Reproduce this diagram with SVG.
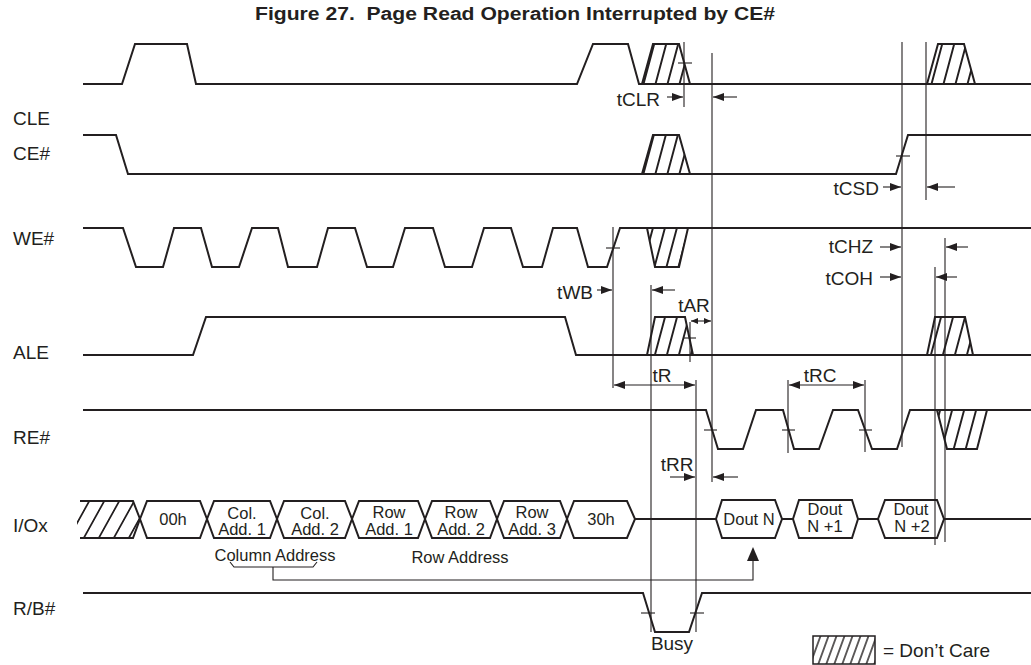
<svg xmlns="http://www.w3.org/2000/svg" width="1031" height="665" viewBox="0 0 1031 665">
<style>
.w{fill:none;stroke:#231f20;stroke-width:2;stroke-linejoin:miter}
.t{fill:none;stroke:#231f20;stroke-width:1.1}
.a{fill:none;stroke:#231f20;stroke-width:1.1}
.hz{fill:url(#h);stroke:#231f20;stroke-width:2}
.lbl{font-family:"Liberation Sans",Arial,sans-serif;font-size:19px;fill:#231f20}
.bx{font-family:"Liberation Sans",Arial,sans-serif;font-size:16.5px;fill:#231f20;text-anchor:middle}
.tm{font-family:"Liberation Sans",Arial,sans-serif;font-size:19px;fill:#231f20}
</style>
<defs>
<pattern id="h" patternUnits="userSpaceOnUse" width="12" height="40" patternTransform="skewX(-15)">
<line x1="6" y1="-5" x2="6" y2="45" stroke="#231f20" stroke-width="2"/>
</pattern>
<pattern id="h2" patternUnits="userSpaceOnUse" width="8" height="40" patternTransform="skewX(-20)">
<line x1="4" y1="-5" x2="4" y2="45" stroke="#231f20" stroke-width="1.5"/>
</pattern>
<pattern id="h3" patternUnits="userSpaceOnUse" width="15" height="40" patternTransform="skewX(-29)">
<line x1="7" y1="-5" x2="7" y2="45" stroke="#231f20" stroke-width="2"/>
</pattern>
<marker id="ah" markerUnits="userSpaceOnUse" markerWidth="12" markerHeight="10" refX="11" refY="4" orient="auto">
<path d="M0,0 L11,4 L0,8 Z" fill="#231f20"/>
</marker>
<marker id="as" markerUnits="userSpaceOnUse" markerWidth="12" markerHeight="10" refX="0" refY="4" orient="auto">
<path d="M11,0 L0,4 L11,8 Z" fill="#231f20"/>
</marker>
<marker id="ahs" markerUnits="userSpaceOnUse" markerWidth="8" markerHeight="6" refX="7" refY="3" orient="auto">
<path d="M0,0 L7,3 L0,6 Z" fill="#231f20"/>
</marker>
<marker id="ass" markerUnits="userSpaceOnUse" markerWidth="8" markerHeight="6" refX="0" refY="3" orient="auto">
<path d="M7,0 L0,3 L7,6 Z" fill="#231f20"/>
</marker>
</defs>

<text x="515" y="20" text-anchor="middle" font-family="Liberation Sans,Arial,sans-serif" font-weight="bold" font-size="18" fill="#231f20" textLength="520" lengthAdjust="spacingAndGlyphs">Figure 27.&#160; Page Read Operation Interrupted by CE#</text>

<g id="labels">
<text class="lbl" x="13" y="125">CLE</text>
<text class="lbl" x="13" y="160">CE#</text>
<text class="lbl" x="13" y="245">WE#</text>
<text class="lbl" x="13" y="359">ALE</text>
<text class="lbl" x="13" y="444">RE#</text>
<text class="lbl" x="13" y="532">I/Ox</text>
<text class="lbl" x="13" y="615">R/B#</text>
</g>

<g id="cle">
<path class="w" d="M83,84 H122 L135,44 H187 L196,84 H577 L593,44 H628 L639,84 H1031"/>
<polygon class="hz" points="642,84 653,44 679,44 690,84"/>
<polygon class="hz" points="927,84 938,44 964,44 975,84"/>
</g>
<g id="ce">
<path class="w" d="M83,135 H116 L128,174 H896 L908,135 H1031"/>
<polygon class="hz" points="642,174 653,135 679,135 690,174"/>
</g>
<g id="we">
<path class="w" d="M83,228 H123 L136,267 H163 L174,228 H201 L212,267 H239 L252,228 H278 L288,267 H317 L328,228 H355 L367,267 H393 L405,228 H433 L445,267 H472 L484,228 H511 L523,267 H542 L553,228 H577 L588,267 H607 L620,228 H1031"/>
<polygon class="hz" points="647,228 688,228 679,267 655,267"/>
</g>
<g id="ale">
<path class="w" d="M83,355 H193 L206,317 H565 L576,355 H1031"/>
<polygon class="hz" points="647,355 655,317 685,317 693,355"/>
<polygon class="hz" points="927,355 935,317 965,317 973,355"/>
</g>
<g id="re">
<path class="w" d="M83,410 H706 L718,449 H743 L756,410 H783 L794,449 H819 L833,410 H858 L872,449 H897 L910,410 H1031"/>
<polygon class="hz" points="937,410 987,410 977,449 947,449"/>
</g>
<g id="io">
<polygon fill="url(#h3)" stroke="none" points="77,501 133,501 140,519 133,538 77,538"/>
<rect x="60" y="495" width="17" height="50" fill="#fff"/>
<path class="w" d="M80,501 H133 L140,519 L133,538 H80"/>
<polygon class="w" points="140,519 147,501 200,501 207,519 200,538 147,538"/>
<polygon class="w" points="207,519 214,501 270,501 277,519 270,538 214,538"/>
<polygon class="w" points="277,519 284,501 345,501 352,519 345,538 284,538"/>
<polygon class="w" points="352,519 359,501 418,501 425,519 418,538 359,538"/>
<polygon class="w" points="425,519 432,501 490,501 497,519 490,538 432,538"/>
<polygon class="w" points="497,519 504,501 560,501 567,519 560,538 504,538"/>
<polygon class="w" points="567,519 574,501 627,501 635,519 627,538 574,538"/>
<path class="w" d="M635,519 H716"/>
<polygon class="w" points="716,519 722,500 775,500 782,519 775,538 722,538"/>
<path class="w" d="M782,519 H793"/>
<polygon class="w" points="793,519 799,500 852,500 858,519 852,538 799,538"/>
<path class="w" d="M858,519 H878"/>
<polygon class="w" points="878,519 885,500 937,500 944,519 937,538 885,538"/>
<path class="w" d="M944,519 H1031"/>
<text class="bx" x="173" y="525">00h</text>
<text class="bx" x="242" y="519">Col.</text><text class="bx" x="242" y="535">Add. 1</text>
<text class="bx" x="315" y="519">Col.</text><text class="bx" x="315" y="535">Add. 2</text>
<text class="bx" x="389" y="518">Row</text><text class="bx" x="389" y="535">Add. 1</text>
<text class="bx" x="461" y="518">Row</text><text class="bx" x="461" y="535">Add. 2</text>
<text class="bx" x="532" y="518">Row</text><text class="bx" x="532" y="535">Add. 3</text>
<text class="bx" x="601" y="525">30h</text>
<text class="bx" x="749" y="525">Dout N</text>
<text class="bx" x="825" y="515">Dout</text><text class="bx" x="825" y="532">N +1</text>
<text class="bx" x="911" y="515">Dout</text><text class="bx" x="912" y="532">N +2</text>
<text class="bx" x="275" y="561">Column Address</text>
<text class="bx" x="460" y="563">Row Address</text>
</g>
<g id="rb">
<path class="w" d="M83,593 H643 L655,632 H689 L702,593 H1031"/>
<text class="tm" x="672" y="650" text-anchor="middle">Busy</text>
</g>
<g id="legend">
<rect x="813" y="636" width="62" height="28" fill="url(#h2)" stroke="#231f20" stroke-width="1.5"/>
<text class="tm" x="883" y="657">= Don’t Care</text>
</g>

<g id="connectors">
<line class="t" x1="613" y1="227" x2="613" y2="388"/>
<line class="t" x1="651" y1="285" x2="651" y2="632"/>
<line class="t" x1="684" y1="42" x2="684" y2="107"/>
<line class="t" x1="690" y1="322" x2="690" y2="362"/>
<line class="t" x1="696" y1="380" x2="696" y2="632"/>
<line class="t" x1="712" y1="53" x2="712" y2="482"/>
<line class="t" x1="788" y1="380" x2="788" y2="453"/>
<line class="t" x1="865" y1="380" x2="865" y2="452"/>
<line class="t" x1="902" y1="42" x2="902" y2="447"/>
<line class="t" x1="926" y1="42" x2="926" y2="200"/>
<line class="t" x1="935" y1="267" x2="935" y2="545"/>
<line class="t" x1="945" y1="238" x2="945" y2="542"/>
<line class="t" x1="678" y1="63" x2="692" y2="63"/>
<line class="t" x1="896" y1="156" x2="910" y2="156"/>
<line class="t" x1="606" y1="248" x2="620" y2="248"/>
<line class="t" x1="683" y1="338" x2="696" y2="338"/>
<line class="t" x1="704" y1="430" x2="717" y2="430"/>
<line class="t" x1="782" y1="430" x2="795" y2="430"/>
<line class="t" x1="859" y1="430" x2="872" y2="430"/>
<line class="t" x1="641" y1="613" x2="655" y2="613"/>
<line class="t" x1="690" y1="613" x2="704" y2="613"/>
<line class="a" x1="667" y1="97" x2="683" y2="97" marker-end="url(#ah)"/>
<line class="a" x1="737" y1="97" x2="713" y2="97" marker-end="url(#ah)"/>
<line class="a" x1="883" y1="187" x2="901" y2="187" marker-end="url(#ah)"/>
<line class="a" x1="955" y1="187" x2="927" y2="187" marker-end="url(#ah)"/>
<line class="a" x1="880" y1="247" x2="901" y2="247" marker-end="url(#ah)"/>
<line class="a" x1="968" y1="247" x2="946" y2="247" marker-end="url(#ah)"/>
<line class="a" x1="880" y1="277" x2="901" y2="277" marker-end="url(#ah)"/>
<line class="a" x1="957" y1="277" x2="936" y2="277" marker-end="url(#ah)"/>
<line class="a" x1="597" y1="290" x2="612" y2="290" marker-end="url(#ah)"/>
<line class="a" x1="675" y1="290" x2="652" y2="290" marker-end="url(#ah)"/>
<line class="a" x1="691" y1="321" x2="711" y2="321" marker-start="url(#ass)" marker-end="url(#ahs)"/>
<line class="a" x1="614" y1="385" x2="695" y2="385" marker-start="url(#as)" marker-end="url(#ah)"/>
<line class="a" x1="789" y1="385" x2="864" y2="385" marker-start="url(#as)" marker-end="url(#ah)"/>
<line class="a" x1="670" y1="477" x2="695" y2="477" marker-end="url(#ah)"/>
<line class="a" x1="738" y1="477" x2="713" y2="477" marker-end="url(#ah)"/>
<path class="a" d="M230,562 L234,567 H313 L317,562"/>
<path class="a" d="M273,567 V580 H753 V560"/>
<path d="M753,547 L747,561 L759,561 Z" fill="#231f20"/>
<text class="tm" x="660" y="106" text-anchor="end">tCLR</text>
<text class="tm" x="879" y="195" text-anchor="end">tCSD</text>
<text class="tm" x="873" y="253" text-anchor="end">tCHZ</text>
<text class="tm" x="873" y="285" text-anchor="end">tCOH</text>
<text class="tm" x="593" y="299" text-anchor="end">tWB</text>
<text class="tm" x="694" y="312" text-anchor="middle">tAR</text>
<text class="tm" x="662" y="382" text-anchor="middle">tR</text>
<text class="tm" x="820" y="382" text-anchor="middle">tRC</text>
<text class="tm" x="677" y="471" text-anchor="middle">tRR</text>
</g>
</svg>
